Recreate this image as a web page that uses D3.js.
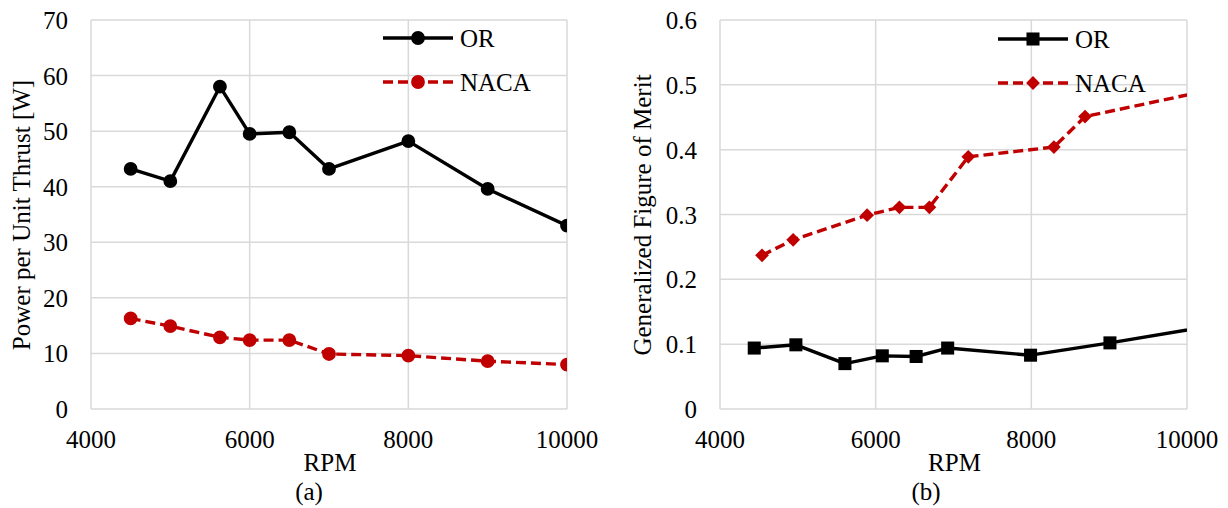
<!DOCTYPE html>
<html>
<head>
<meta charset="utf-8">
<script src="https://cdn.jsdelivr.net/npm/d3@7"></script>
<style>
  body { margin: 0; background: #fff; }
  text { font-family: "Liberation Serif", "Times New Roman", serif; fill: #000; }
</style>
</head>
<body>
<div id="chart"></div>
<script>
// panel (a): power per unit thrust
var rpmA = [4500, 5000, 5625, 6000, 6500, 7000, 8000, 9000, 10000];
var powerOR = [43.2, 41.0, 58.0, 49.5, 49.8, 43.2, 48.2, 39.6, 33.0];
var powerNACA = [16.3, 14.9, 12.9, 12.4, 12.4, 9.9, 9.6, 8.6, 8.0];

// panel (b): generalized figure of merit (last points run past the axis and are clipped)
var rpmOR_b = [4440, 4975, 5605, 6085, 6520, 6925, 7990, 9010, 10300];
var fomOR = [0.094, 0.099, 0.070, 0.082, 0.081, 0.094, 0.083, 0.102, 0.128];
var rpmNACA_b = [4540, 4940, 5890, 6305, 6690, 7190, 8290, 8690, 10300];
var fomNACA = [0.237, 0.261, 0.299, 0.311, 0.311, 0.389, 0.404, 0.451, 0.492];

var xTicks = [4000, 6000, 8000, 10000];
var yTicksA = [0, 10, 20, 30, 40, 50, 60, 70];
var yTicksB = [0, 0.1, 0.2, 0.3, 0.4, 0.5, 0.6];

var W = 1228, H = 508;
var red = "#c00000";

var svg = d3.select("#chart").append("svg")
    .attr("width", W)
    .attr("height", H);

function panel(opts) {
    var x = d3.scaleLinear().domain([4000, 10000]).range([opts.left, opts.right]);
    var y = d3.scaleLinear().domain([0, opts.ymax]).range([409, 20]);
    var g = svg.append("g");

    //clip so lines stop at the plot edge
    g.append("clipPath").attr("id", opts.id)
        .append("rect")
        .attr("x", opts.left).attr("y", 20)
        .attr("width", opts.right - opts.left).attr("height", 389);

    //gridlines
    g.selectAll(".hg").data(opts.yTicks).enter().append("line")
        .attr("x1", opts.left).attr("x2", opts.right)
        .attr("y1", d => y(d)).attr("y2", d => y(d))
        .attr("stroke", "#d9d9d9").attr("stroke-width", 1.5);
    g.selectAll(".vg").data(xTicks).enter().append("line")
        .attr("x1", d => x(d)).attr("x2", d => x(d))
        .attr("y1", 20).attr("y2", 409)
        .attr("stroke", "#d9d9d9").attr("stroke-width", 1.5);

    //tick labels
    g.selectAll(".yl").data(opts.yTicks).enter().append("text")
        .attr("x", opts.left - 23).attr("y", d => y(d) + 9)
        .attr("text-anchor", "end")
        .style("font-size", "25px")
        .text(opts.fmt);
    g.selectAll(".xl").data(xTicks).enter().append("text")
        .attr("x", d => x(d)).attr("y", 448)
        .attr("text-anchor", "middle")
        .style("font-size", "25px")
        .text(d => d);

    //axis titles
    g.append("text")
        .attr("x", (opts.left + opts.right) / 2 + 1).attr("y", 471)
        .attr("text-anchor", "middle").style("font-size", "25px")
        .text("RPM");
    g.append("text")
        .attr("x", opts.capX).attr("y", 500)
        .attr("text-anchor", "middle").style("font-size", "25px")
        .text(opts.cap);
    g.append("text")
        .attr("transform", "translate(" + opts.titleX + ",215) rotate(-90)")
        .attr("text-anchor", "middle").style("font-size", "25px")
        .text(opts.title);

    var line = d3.line().x(d => x(d[0])).y(d => y(d[1]));
    var plot = g.append("g").attr("clip-path", "url(#" + opts.id + ")");

    opts.series.forEach(function (s) {
        var pts = d3.zip(s.xs, s.ys);
        plot.append("path")
            .datum(pts)
            .attr("d", line)
            .attr("fill", "none")
            .attr("stroke", s.color)
            .attr("stroke-width", 3.4)
            .attr("stroke-linejoin", "round")
            .attr("stroke-dasharray", s.dash || null);
        plot.selectAll(null).data(pts).enter().append("path")
            .attr("transform", d => "translate(" + x(d[0]) + "," + y(d[1]) + ") rotate(" + (s.rot || 0) + ")")
            .attr("d", d3.symbol().type(s.symbol).size(s.size))
            .attr("fill", s.color);
    });

    //legend
    opts.series.forEach(function (s, i) {
        var ly = opts.legY + i * 44;
        var lg = g.append("g");
        lg.append("line")
            .attr("x1", opts.legX).attr("x2", opts.legX + 70)
            .attr("y1", ly).attr("y2", ly)
            .attr("stroke", s.color).attr("stroke-width", 3.4)
            .attr("stroke-dasharray", s.dash || null);
        lg.append("path")
            .attr("transform", "translate(" + (opts.legX + 35) + "," + ly + ") rotate(" + (s.rot || 0) + ")")
            .attr("d", d3.symbol().type(s.symbol).size(s.size))
            .attr("fill", s.color);
        lg.append("text")
            .attr("x", opts.legX + 77).attr("y", ly + 9)
            .style("font-size", "25px")
            .text(s.name);
    });
}

panel({
    id: "clipA", left: 91, right: 567, ymax: 70, yTicks: yTicksA,
    fmt: d => d, title: "Power per Unit Thrust [W]", titleX: 30,
    cap: "(a)", capX: 309, legX: 383, legY: 38,
    series: [
        { name: "OR", xs: rpmA, ys: powerOR, color: "#000", symbol: d3.symbolCircle, size: 150 },
        { name: "NACA", xs: rpmA, ys: powerNACA, color: red, symbol: d3.symbolCircle, size: 150, dash: "10,5" }
    ]
});

panel({
    id: "clipB", left: 720, right: 1187, ymax: 0.6, yTicks: yTicksB,
    fmt: d => d === 0 ? "0" : d3.format(".1f")(d), title: "Generalized Figure of Merit", titleX: 651,
    cap: "(b)", capX: 926, legX: 998, legY: 39,
    series: [
        { name: "OR", xs: rpmOR_b, ys: fomOR, color: "#000", symbol: d3.symbolSquare, size: 170 },
        { name: "NACA", xs: rpmNACA_b, ys: fomNACA, color: red, symbol: d3.symbolSquare, size: 95, rot: 45, dash: "10,5" }
    ]
});
</script>
</body>
</html>
